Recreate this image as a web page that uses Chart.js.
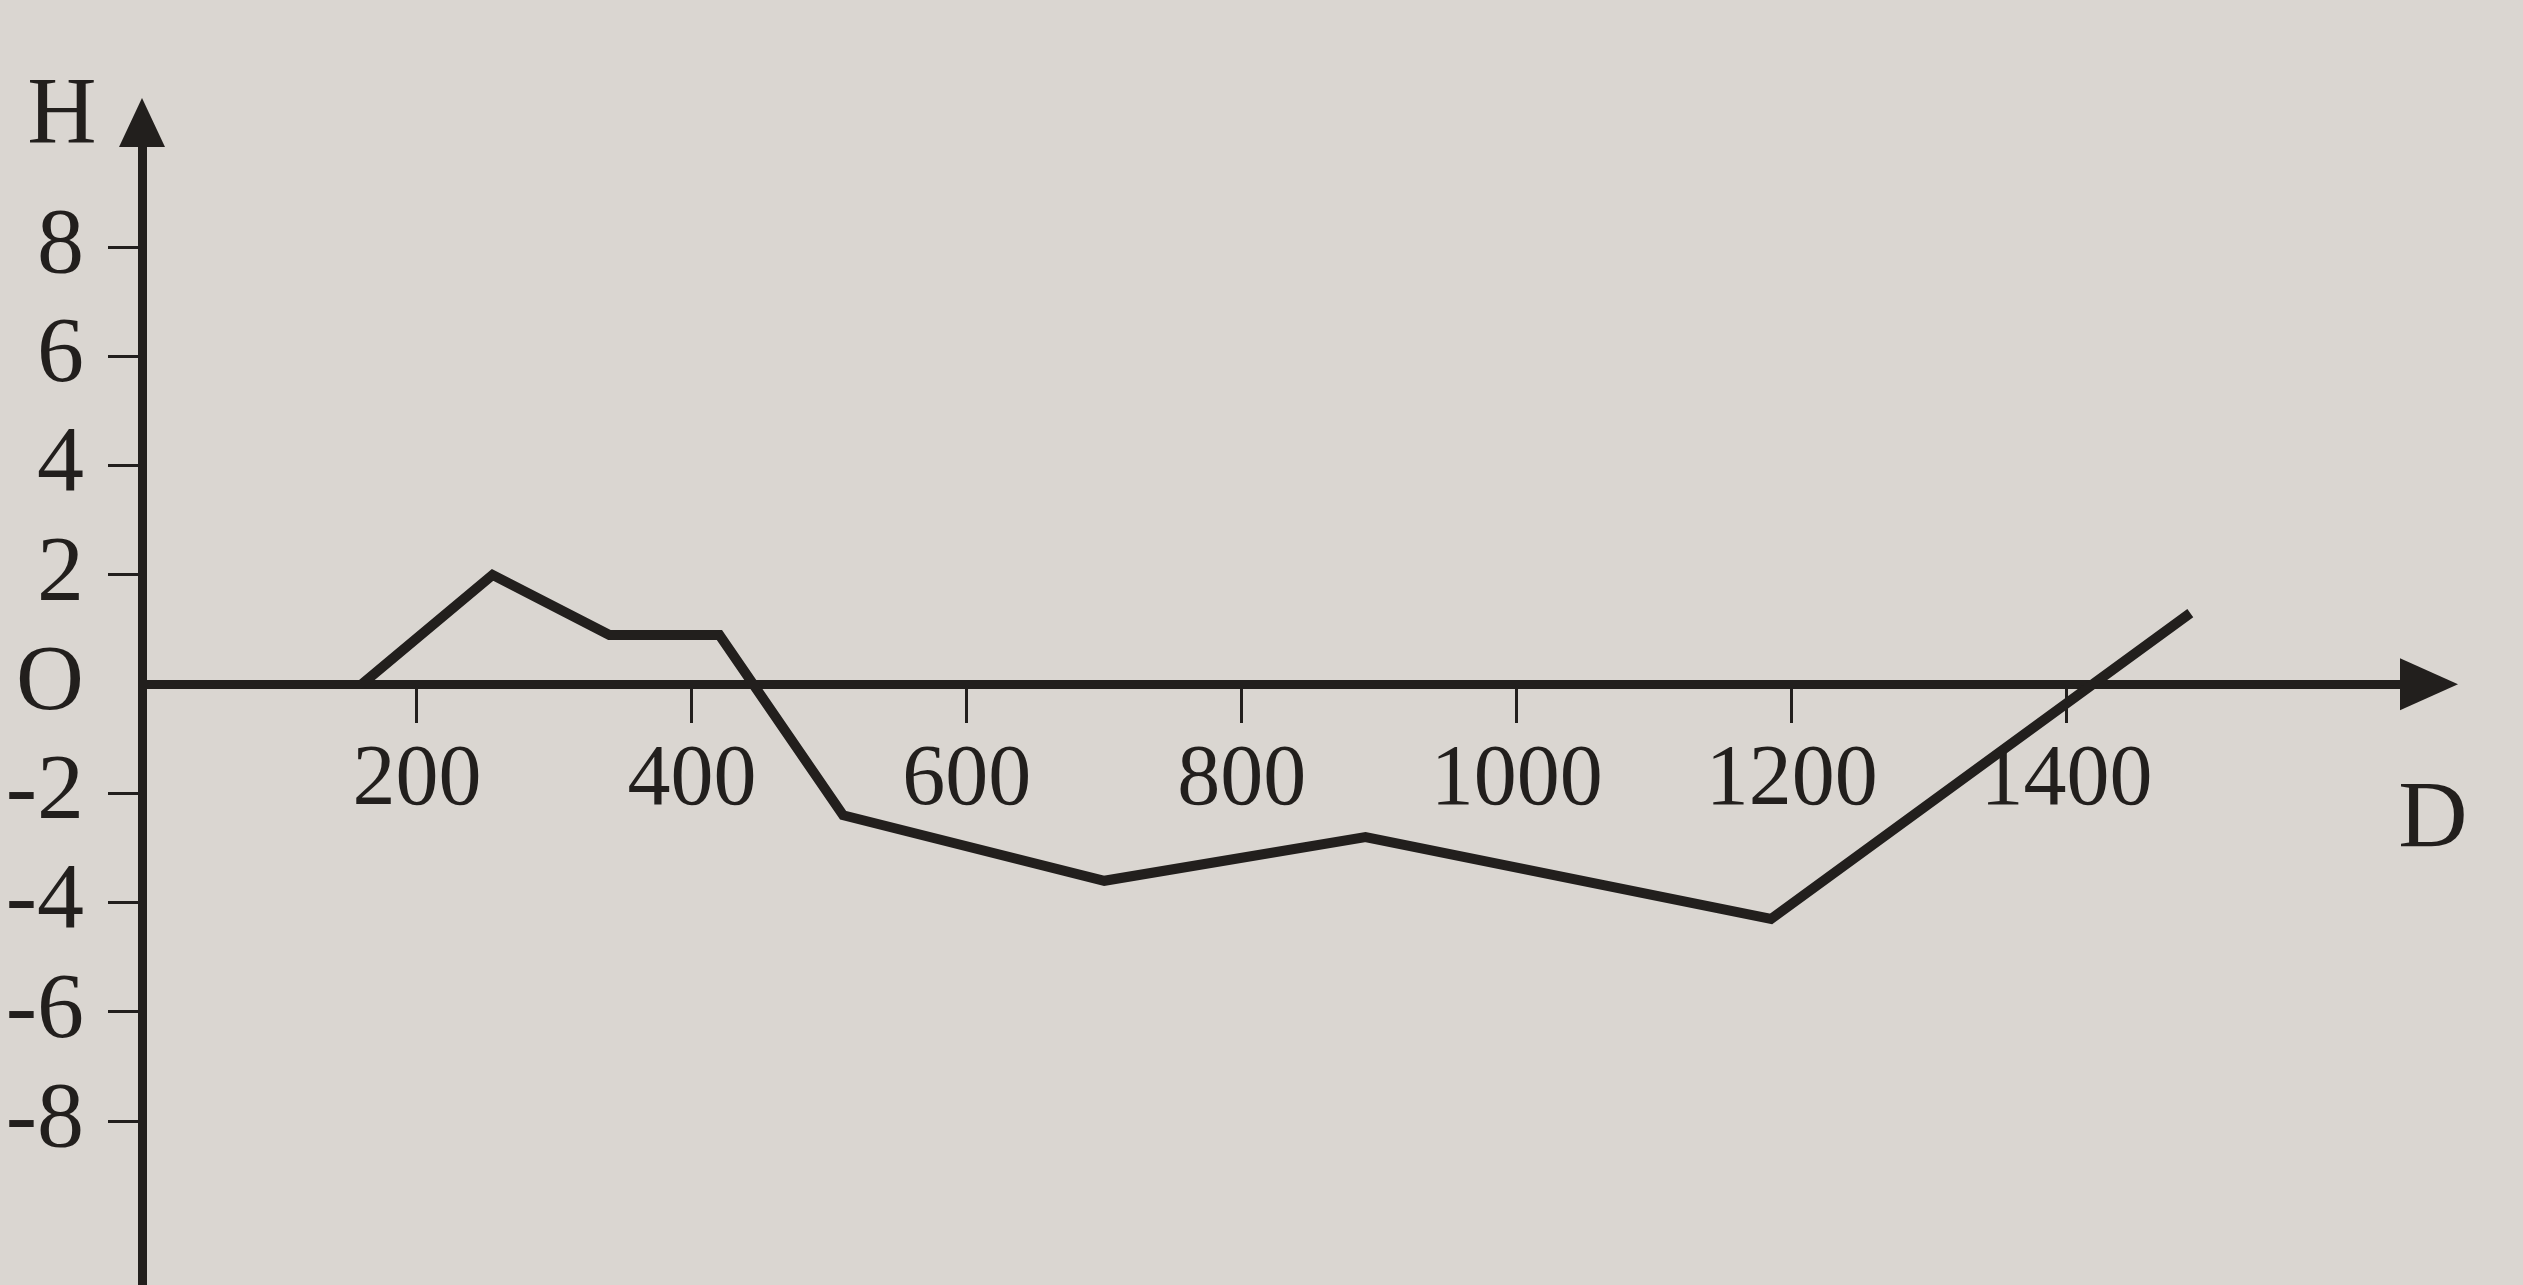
<!DOCTYPE html>
<html>
<head>
<meta charset="utf-8">
<title>H - D</title>
<script src="https://cdn.jsdelivr.net/npm/chart.js@4.4.1/dist/chart.umd.min.js"></script>
<style>
  html, body { margin: 0; padding: 0; background: #dad6d1; overflow: hidden; }
  #wrap { width: 2523px; height: 1285px; position: relative; }
</style>
</head>
<body>
<div id="wrap"><canvas id="myChart"></canvas></div>
<script>
// distance D and height H
const distances = [160, 255, 340, 420, 510, 700, 890, 1185, 1490];
const heights = [0, 2, 0.9, 0.9, -2.4, -3.6, -2.8, -4.3, 1.3];

const xTickValues = [200, 400, 600, 800, 1000, 1200, 1400];
const yTickValues = [-8, -6, -4, -2, 0, 2, 4, 6, 8];

const xTitle = 'D';
const yTitle = 'H';

const ink = '#221f1d';
const serif = "'Liberation Serif', 'DejaVu Serif', serif";

// arrow heads and the H / D letters
const axisDecor = {
    id: 'axisDecor',
    afterDraw(chart) {
        const ctx = chart.ctx;
        const area = chart.chartArea;
        const y0 = chart.scales.y.getPixelForValue(0);
        ctx.save();
        ctx.fillStyle = ink;

        ctx.beginPath();
        ctx.moveTo(area.left, area.top - 47);
        ctx.lineTo(area.left - 23, area.top + 2);
        ctx.lineTo(area.left + 23, area.top + 2);
        ctx.closePath();
        ctx.fill();

        ctx.beginPath();
        ctx.moveTo(area.right + 56, y0);
        ctx.lineTo(area.right - 2, y0 - 26);
        ctx.lineTo(area.right - 2, y0 + 26);
        ctx.closePath();
        ctx.fill();

        ctx.font = '96px ' + serif;
        ctx.textAlign = 'center';
        ctx.textBaseline = 'middle';
        ctx.fillText(yTitle, 62, 118);
        ctx.fillText(xTitle, 2433, 822);
        ctx.restore();
    }
};

function mainEvent() {
    const ctx = document.querySelector('#myChart');

    new Chart(ctx, {
        type: 'line',
        data: {
            datasets: [{
                data: distances.map((d, i) => ({ x: d, y: heights[i] })),
                borderColor: ink,
                borderWidth: 10,
                borderJoinStyle: 'miter',
                pointRadius: 0,
                tension: 0,
                fill: false
            }]
        },
        options: {
            responsive: true,
            maintainAspectRatio: false,
            animation: false,
            layout: { padding: { top: 145, right: 121, bottom: 0, left: 0 } },
            plugins: {
                legend: { display: false },
                tooltip: { enabled: false }
            },
            scales: {
                x: {
                    type: 'linear',
                    position: { y: 0 },
                    min: 0,
                    max: 1644,
                    afterFit: (scale) => {
                        scale.height = 0;
                        scale.paddingLeft = 0;
                        scale.paddingRight = 0;
                    },
                    afterBuildTicks: (scale) => { scale.ticks = xTickValues.map(v => ({ value: v })); },
                    border: { display: true, color: ink, width: 9 },
                    grid: {
                        drawOnChartArea: false,
                        drawTicks: true,
                        tickLength: 34,
                        tickWidth: 3,
                        tickColor: ink
                    },
                    ticks: {
                        color: ink,
                        padding: 12,
                        maxRotation: 0,
                        autoSkip: false,
                        font: { family: serif, size: 86 },
                        callback: (v) => String(v)
                    }
                },
                y: {
                    type: 'linear',
                    position: 'left',
                    min: -11,
                    max: 9.87,
                    afterFit: (scale) => {
                        scale.width = 142;
                        scale.paddingTop = 0;
                        scale.paddingBottom = 0;
                    },
                    afterBuildTicks: (scale) => { scale.ticks = yTickValues.map(v => ({ value: v })); },
                    border: { display: true, color: ink, width: 9 },
                    grid: {
                        drawOnChartArea: false,
                        drawTicks: true,
                        tickLength: 34,
                        tickWidth: 3,
                        tickColor: (c) => (c.tick && c.tick.value === 0 ? 'rgba(0,0,0,0)' : ink)
                    },
                    ticks: {
                        color: ink,
                        padding: 24,
                        autoSkip: false,
                        font: { family: serif, size: 94 },
                        callback: (v) => (v === 0 ? 'O' : String(v))
                    }
                }
            }
        },
        plugins: [axisDecor]
    });
}

document.addEventListener("DOMContentLoaded", () => mainEvent());
</script>
</body>
</html>
